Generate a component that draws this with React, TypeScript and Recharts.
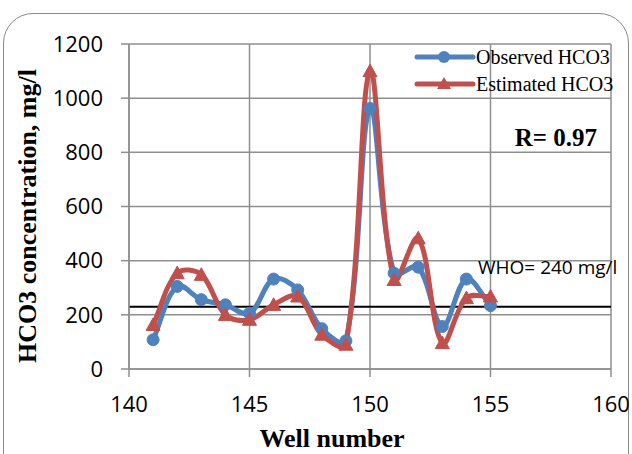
import React from 'react';
import { LineChart, Line, XAxis, YAxis, CartesianGrid, ReferenceLine, Legend } from 'recharts';

const wells = [141, 142, 143, 144, 145, 146, 147, 148, 149, 150, 151, 152, 153, 154, 155];
const observed = [108, 305, 256, 237, 206, 332, 292, 149, 104, 962, 354, 376, 157, 332, 234];
const estimated = [163, 354, 348, 200, 182, 237, 268, 127, 90, 1100, 329, 483, 96, 262, 268];
const xTicks = [140, 145, 150, 155, 160];
const yTicks = [0, 200, 400, 600, 800, 1000, 1200];
const whoLevel = 230;
const seriesNames = ['Observed HCO3', 'Estimated HCO3'];

const data = wells.map((w, i) => ({ well: w, obs: observed[i], est: estimated[i] }));

const BLUE = '#4f81bd';
const RED = '#c0504d';
const GRID = '#8f8f8f';
const SERIF = '"Liberation Serif", "Times New Roman", serif';
const SANS = '"Open Sans", "Liberation Sans", sans-serif';

// Excel-like smooth curve: tangents scaled by neighbouring segment lengths
const smoothCurve: any = (context: any) => {
  let pts: number[][] = [];
  const T = 0.36;
  const dist = (a: number[], b: number[]) => Math.hypot(b[0] - a[0], b[1] - a[1]);
  return {
    areaStart() {},
    areaEnd() {},
    lineStart() {
      pts = [];
    },
    lineEnd() {
      if (!pts.length) return;
      context.moveTo(pts[0][0], pts[0][1]);
      for (let i = 0; i < pts.length - 1; i++) {
        const p0 = pts[i - 1] || pts[i];
        const p1 = pts[i];
        const p2 = pts[i + 1];
        const p3 = pts[i + 2] || p2;
        const d01 = dist(p0, p1);
        const d12 = dist(p1, p2);
        const d23 = dist(p2, p3);
        const f1 = d01 + d12 > 0 ? (T * d12) / (d01 + d12) : 0;
        const f2 = d12 + d23 > 0 ? (T * d12) / (d12 + d23) : 0;
        const c1x = p1[0] + f1 * (p2[0] - p0[0]);
        const c1y = p1[1] + f1 * (p2[1] - p0[1]);
        const c2x = p2[0] - f2 * (p3[0] - p1[0]);
        const c2y = p2[1] - f2 * (p3[1] - p1[1]);
        context.bezierCurveTo(c1x, c1y, c2x, c2y, p2[0], p2[1]);
      }
    },
    point(x: number, y: number) {
      pts.push([+x, +y]);
    },
  };
};

const Triangle = (props: any) => {
  const { cx, cy } = props;
  if (cx == null || cy == null) return null;
  const s = 7;
  return (
    <polygon
      key={`tri-${cx}-${cy}`}
      points={`${cx},${cy - s} ${cx - s},${cy + s * 0.8} ${cx + s},${cy + s * 0.8}`}
      fill={RED}
      stroke={RED}
      strokeWidth={1}
    />
  );
};

const LegendContent = () => (
  <svg width={215} height={60} style={{ overflow: 'visible' }}>
    <line x1={0} y1={13} x2={56} y2={13} stroke={BLUE} strokeWidth={5} strokeLinecap="round" />
    <circle cx={27} cy={13} r={6} fill={BLUE} />
    <text x={59} y={13} dy="0.35em" fontFamily={SERIF} fontSize={20} fill="#000">
      {seriesNames[0]}
    </text>
    <line x1={0} y1={40} x2={56} y2={40} stroke={RED} strokeWidth={5} strokeLinecap="round" />
    <polygon points="27,33 20,45 34,45" fill={RED} />
    <text x={59} y={40} dy="0.35em" fontFamily={SERIF} fontSize={20} fill="#000">
      {seriesNames[1]}
    </text>
  </svg>
);

export default function App() {
  return (
    <div style={{ position: 'fixed', left: 0, top: 0, width: 632, height: 454, overflow: 'hidden', background: '#fff' }}>
      <div
        style={{
          position: 'absolute',
          left: 3,
          top: 13,
          width: 626,
          height: 520,
          border: '1.5px solid #8a8a8a',
          borderRadius: 30,
          boxSizing: 'border-box',
        }}
      />
      <div style={{ position: 'absolute', left: 0, top: 0 }}>
        <LineChart width={632} height={454} data={data} margin={{ top: 44, right: 21, left: 0, bottom: 0 }}>
          <CartesianGrid stroke={GRID} strokeWidth={1.5} />
          <XAxis
            dataKey="well"
            type="number"
            domain={[140, 160]}
            ticks={xTicks}
            height={85}
            tickSize={8}
            tickMargin={19}
            stroke={GRID}
            strokeWidth={1.5}
            tick={{ fill: '#000', fontFamily: SANS, fontSize: 22 }}
            interval={0}
          />
          <YAxis
            type="number"
            domain={[0, 1200]}
            ticks={yTicks}
            width={129}
            tickSize={8}
            tickMargin={18}
            stroke={GRID}
            strokeWidth={1.5}
            tick={{ fill: '#000', fontFamily: SANS, fontSize: 22 }}
            interval={0}
          />
          <ReferenceLine y={whoLevel} stroke="#000" strokeWidth={2} />
          <Line
            dataKey="obs"
            name={seriesNames[0]}
            type={smoothCurve}
            stroke={BLUE}
            strokeWidth={5}
            dot={{ r: 6, fill: BLUE, stroke: BLUE, strokeWidth: 1 }}
            isAnimationActive={false}
          />
          <Line
            dataKey="est"
            name={seriesNames[1]}
            type={smoothCurve}
            stroke={RED}
            strokeWidth={5}
            dot={Triangle}
            isAnimationActive={false}
          />
          <Legend
            content={LegendContent}
            layout="vertical"
            verticalAlign="middle"
            align="center"
            wrapperStyle={{ position: 'absolute', left: 417, top: 44, width: 215, height: 60 }}
          />
        </LineChart>
      </div>
      <svg width={632} height={454} style={{ position: 'absolute', left: 0, top: 0, pointerEvents: 'none' }}>
        <text
          x={0}
          y={0}
          transform="translate(36,216) rotate(-90)"
          textAnchor="middle"
          fontFamily={SERIF}
          fontWeight="bold"
          fontSize={26}
          fill="#000"
        >
          HCO3 concentration, mg/l
        </text>
        <text x={332} y={447} textAnchor="middle" fontFamily={SERIF} fontWeight="bold" fontSize={26} fill="#000">
          Well number
        </text>
        <text x={597} y={146} textAnchor="end" fontFamily={SERIF} fontWeight="bold" fontSize={25} fill="#000">
          R= 0.97
        </text>
        <text x={478} y={274} fontFamily={SANS} fontSize={19} fill="#000">
          WHO= 240 mg/l
        </text>
      </svg>
    </div>
  );
}
